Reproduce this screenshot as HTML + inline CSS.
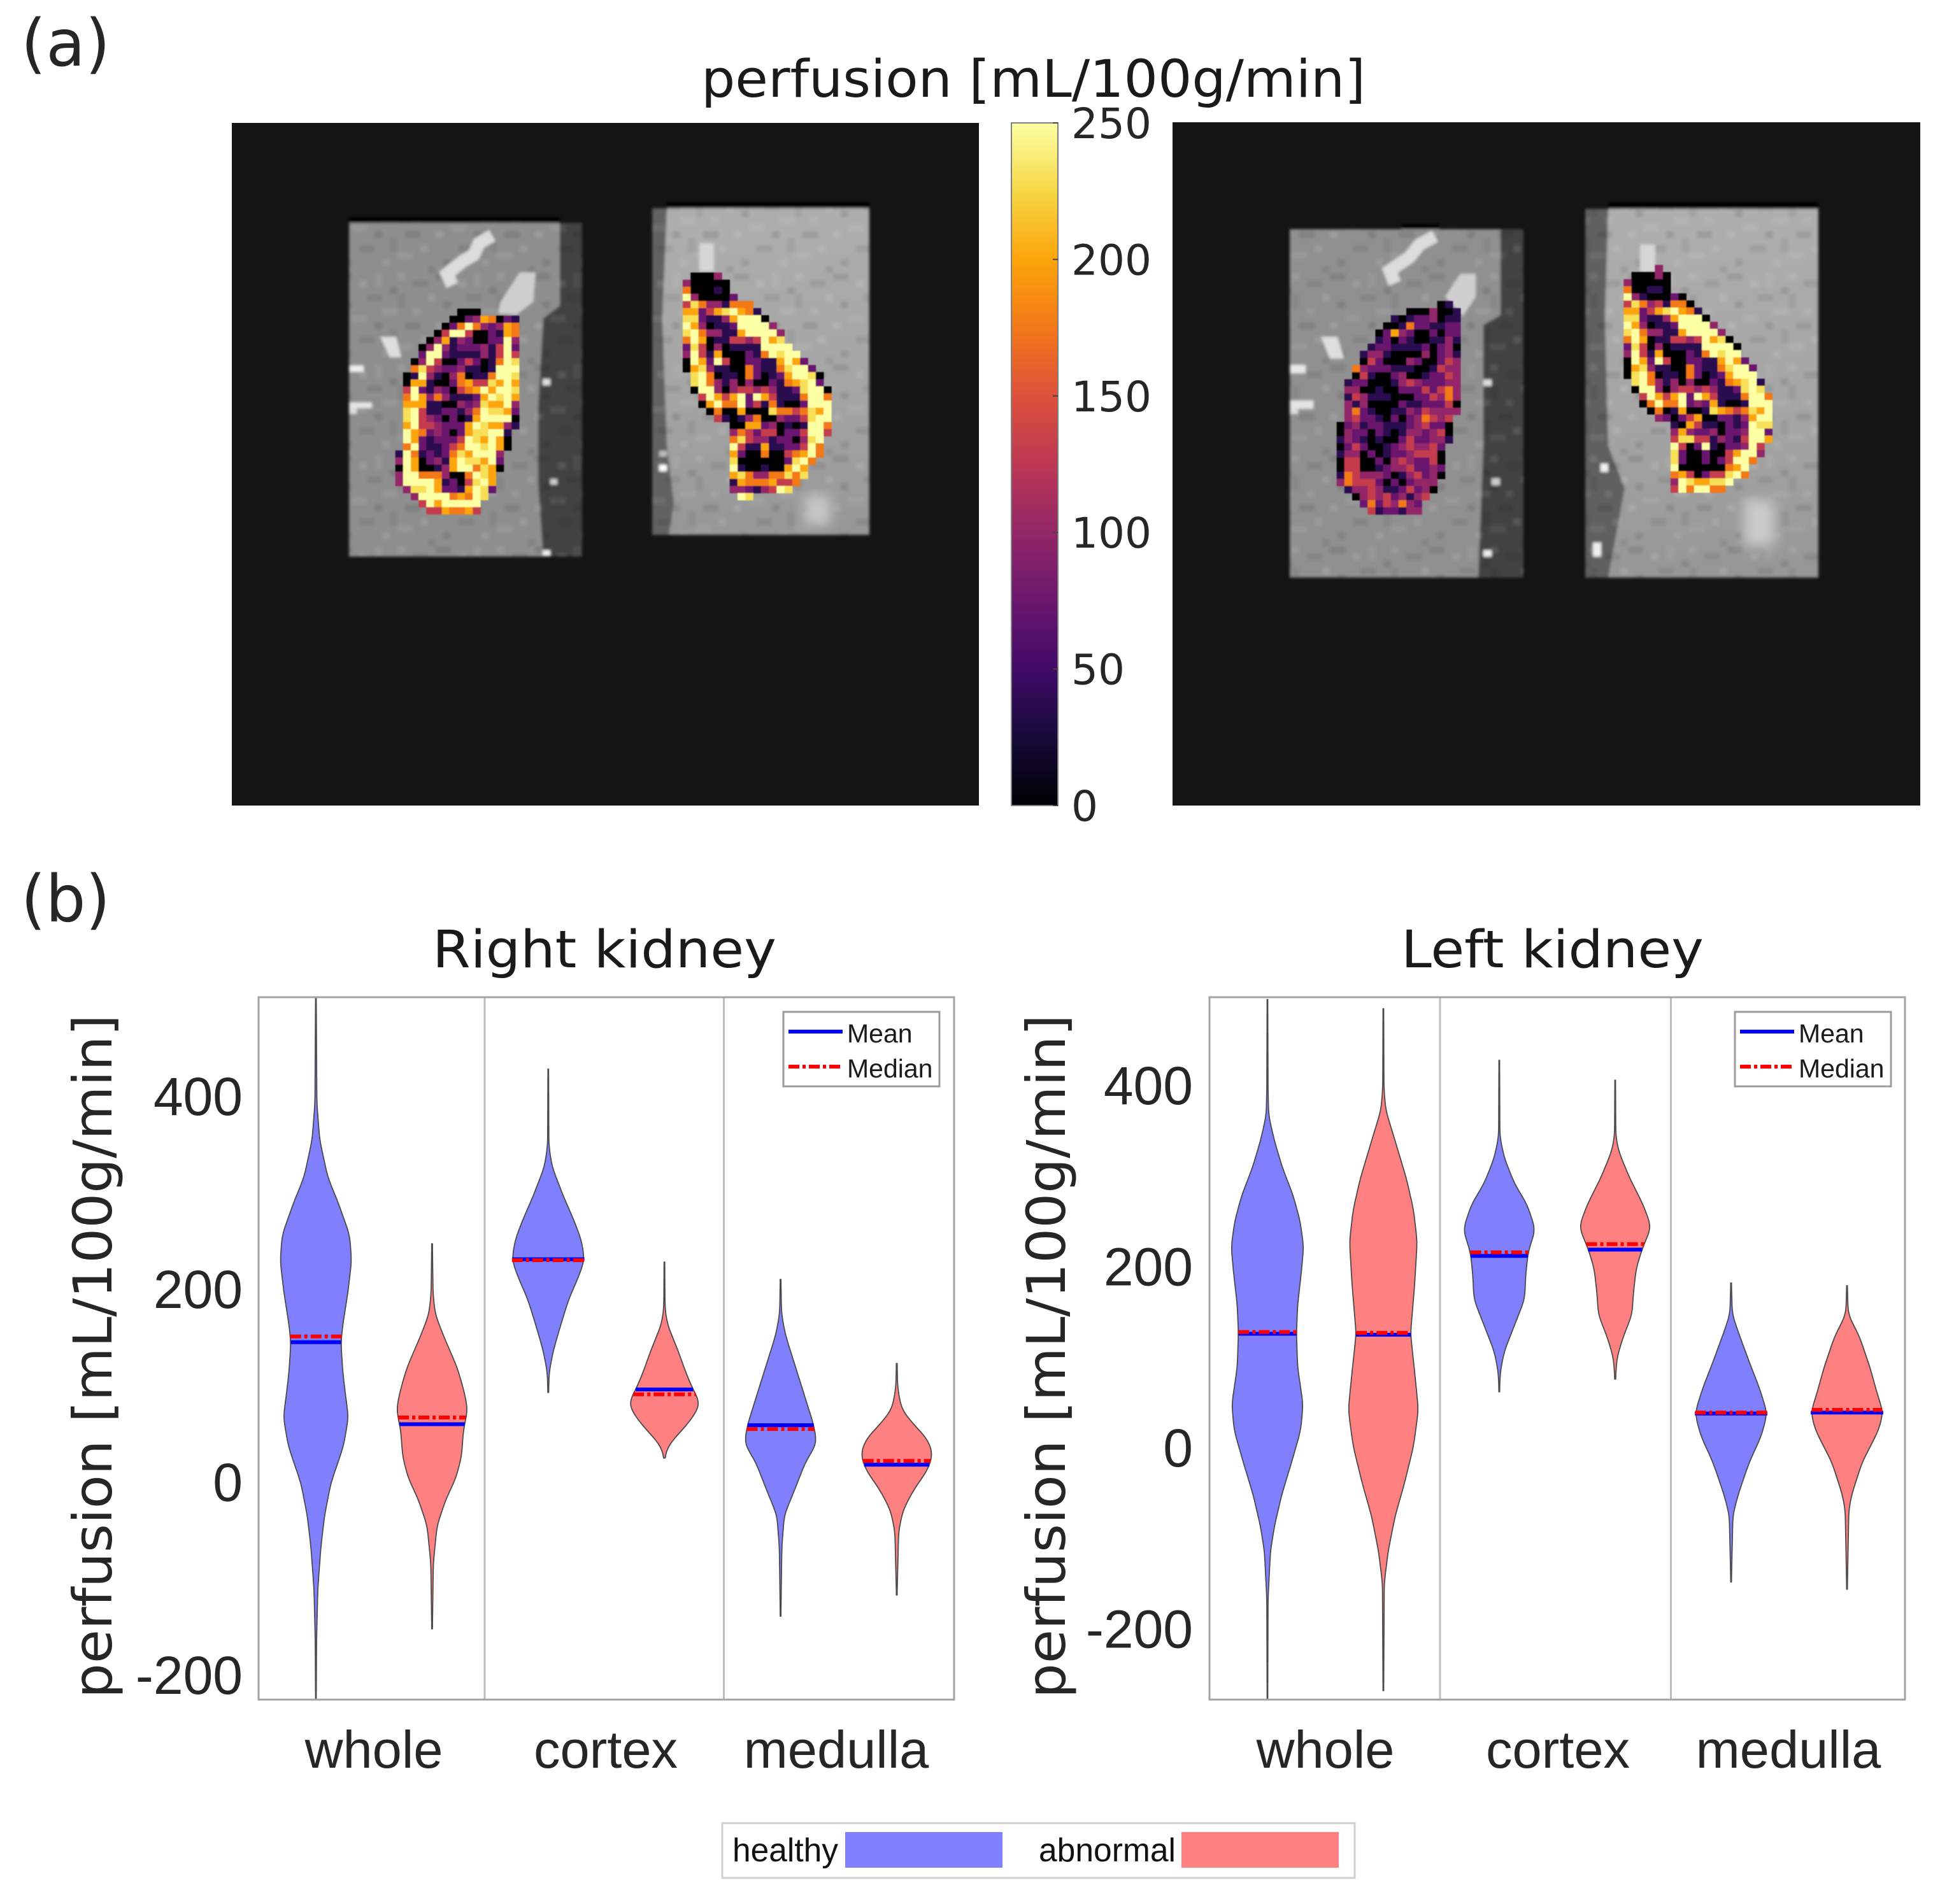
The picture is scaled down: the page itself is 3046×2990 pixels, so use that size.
<!DOCTYPE html>
<html lang="en">
<head>
<meta charset="utf-8">
<title>Kidney perfusion maps and violin plots</title>
<style>
html,body{margin:0;padding:0;background:#fff;}
svg{display:block;}
.dj{font-family:"DejaVu Sans",sans-serif;fill:#262626;}
.lb{font-family:"Liberation Sans",sans-serif;fill:#262626;}
</style>
</head>
<body>
<svg id="fig" xmlns="http://www.w3.org/2000/svg" width="3046" height="2990" viewBox="0 0 3046 2990">
  <defs>
    <filter id="soft" x="-5%" y="-5%" width="110%" height="110%"><feGaussianBlur stdDeviation="2.2"/></filter>
    <filter id="softer" x="-10%" y="-10%" width="120%" height="120%"><feGaussianBlur stdDeviation="0.8"/></filter>
    <filter id="patchBlur" x="-40%" y="-40%" width="180%" height="180%"><feGaussianBlur stdDeviation="9"/></filter>
    <pattern id="mottle" width="156" height="143" patternUnits="userSpaceOnUse">
      <rect x="0" y="0" width="12" height="11" fill="#fff" opacity=".09"/>
      <rect x="60" y="0" width="24" height="11" fill="#000" opacity=".09"/>
      <rect x="120" y="0" width="12" height="22" fill="#fff" opacity=".06"/>
      <rect x="24" y="11" width="24" height="11" fill="#000" opacity=".08"/>
      <rect x="96" y="11" width="12" height="11" fill="#fff" opacity=".1"/>
      <rect x="144" y="22" width="12" height="11" fill="#000" opacity=".1"/>
      <rect x="0" y="33" width="12" height="22" fill="#000" opacity=".06"/>
      <rect x="48" y="33" width="12" height="11" fill="#fff" opacity=".11"/>
      <rect x="108" y="33" width="24" height="11" fill="#000" opacity=".07"/>
      <rect x="72" y="44" width="12" height="11" fill="#000" opacity=".1"/>
      <rect x="24" y="55" width="12" height="11" fill="#fff" opacity=".08"/>
      <rect x="132" y="55" width="24" height="11" fill="#fff" opacity=".08"/>
      <rect x="84" y="66" width="24" height="11" fill="#fff" opacity=".07"/>
      <rect x="12" y="77" width="24" height="11" fill="#000" opacity=".09"/>
      <rect x="60" y="77" width="12" height="11" fill="#fff" opacity=".1"/>
      <rect x="120" y="77" width="12" height="11" fill="#000" opacity=".1"/>
      <rect x="144" y="88" width="12" height="22" fill="#000" opacity=".06"/>
      <rect x="36" y="99" width="12" height="11" fill="#fff" opacity=".1"/>
      <rect x="96" y="99" width="24" height="11" fill="#000" opacity=".08"/>
      <rect x="0" y="110" width="24" height="11" fill="#fff" opacity=".07"/>
      <rect x="72" y="121" width="12" height="11" fill="#000" opacity=".09"/>
      <rect x="132" y="121" width="12" height="11" fill="#fff" opacity=".09"/>
      <rect x="48" y="132" width="12" height="11" fill="#000" opacity=".07"/>
    </pattern>
    <linearGradient id="grayFadeA" x1="0" y1="0" x2="0" y2="1">
      <stop offset="0" stop-color="#aeaeae"/><stop offset=".6" stop-color="#a4a4a4"/><stop offset="1" stop-color="#969696"/>
    </linearGradient>
    <linearGradient id="inferno" x1="0" y1="1" x2="0" y2="0">
      <stop offset="0" stop-color="#000004"/><stop offset=".1" stop-color="#160b39"/><stop offset=".2" stop-color="#420a68"/>
      <stop offset=".3" stop-color="#6a176e"/><stop offset=".4" stop-color="#932667"/><stop offset=".5" stop-color="#bc3754"/>
      <stop offset=".6" stop-color="#dd513a"/><stop offset=".7" stop-color="#f37819"/><stop offset=".8" stop-color="#fca50a"/>
      <stop offset=".9" stop-color="#f6d746"/><stop offset="1" stop-color="#fcffa4"/>
    </linearGradient>
    <clipPath id="clipRight"><rect x="406" y="1566" width="1092" height="1103"/></clipPath>
    <clipPath id="clipLeft"><rect x="1899" y="1566" width="1092" height="1103"/></clipPath>
  </defs>

  <rect width="3046" height="2990" fill="#fff"/>

  <text class="dj" x="33" y="103" font-size="102" textLength="140" lengthAdjust="spacingAndGlyphs">(a)</text>
  <text class="dj" x="33" y="1447" font-size="102" textLength="140" lengthAdjust="spacingAndGlyphs">(b)</text>
  <text x="1101" y="152" font-family="'DejaVu Sans',sans-serif" fill="#1a1a1a" font-size="81" textLength="1043" lengthAdjust="spacingAndGlyphs">perfusion [mL/100g/min]</text>

  <!-- Perfusion image panels -->
  <g>
    <rect x="364" y="193" width="1173" height="1072" fill="#141414"/>
    <g filter="url(#soft)">
      <rect x="548" y="341" width="331" height="9" fill="#000"/>
      <rect x="548" y="350" width="366" height="524" fill="#8e8e8e"/>
      <polygon points="879,350 914,350 914,874 853,874 845,760 845,640 853,500 879,480" fill="#424242"/>
      <rect x="548" y="350" width="366" height="524" fill="url(#mottle)"/>
      <polyline points="773,370 752,382 744,400 727,410 702,430 710,448" fill="none" stroke="#dcdcdc" stroke-width="20"/>
      <polygon points="816,428 841,428 837,474 811,494 782,492 786,474" fill="#cfcfcf"/>
      <polygon points="597,529 622,529 630,561 612,561" fill="#dedede"/>
      <rect x="548" y="574" width="23" height="10" fill="#eee"/>
      <rect x="548" y="632" width="36" height="9" fill="#e4e4e4"/>
      <rect x="548" y="641" width="12" height="9" fill="#ddd"/>
      <rect x="852" y="595" width="12" height="10" fill="#ddd"/>
      <rect x="864" y="752" width="11" height="9" fill="#ccc"/>
      <rect x="852" y="864" width="12" height="9" fill="#eee"/>

      <rect x="1047" y="318" width="318" height="9" fill="#000"/>
      <rect x="1024" y="327" width="341" height="513" fill="url(#grayFadeA)"/>
      <polygon points="1024,327 1047,327 1040,500 1047,700 1058,790 1050,840 1024,840" fill="#626262"/>
      <rect x="1024" y="327" width="341" height="513" fill="url(#mottle)"/>
      <rect x="1098" y="382" width="23" height="44" fill="#d6d6d6"/>
      <rect x="1035" y="730" width="12" height="10" fill="#fff"/>
      <rect x="1035" y="708" width="12" height="9" fill="#bbb"/>
    </g>
    <rect x="1262" y="778" width="42" height="46" fill="#c6c6c6" filter="url(#patchBlur)"/>
    <g id="kidneyA" filter="url(#softer)"></g>
    <g id="kidneyB" filter="url(#softer)"></g>
  </g>

  <g>
    <rect x="1841" y="192" width="1174" height="1073" fill="#141414"/>
    <g filter="url(#soft)">
      <rect x="2200" y="352" width="60" height="8" fill="#000"/>
      <rect x="2025" y="360" width="367" height="547" fill="#909090"/>
      <polygon points="2356,360 2392,360 2392,907 2321,907 2329,700 2329,510 2356,495" fill="#424242"/>
      <rect x="2025" y="360" width="367" height="547" fill="url(#mottle)"/>
      <polyline points="2253,371 2229,384 2213,404 2182,425 2190,445" fill="none" stroke="#dcdcdc" stroke-width="20"/>
      <polygon points="2293,430 2317,430 2317,466 2297,496 2269,466" fill="#cfcfcf"/>
      <polygon points="2074,529 2100,529 2110,563 2088,563" fill="#dedede"/>
      <rect x="2025" y="573" width="25" height="13" fill="#e8e8e8"/>
      <rect x="2025" y="629" width="37" height="13" fill="#e4e4e4"/>
      <rect x="2025" y="642" width="13" height="8" fill="#ddd"/>
      <rect x="2329" y="596" width="13" height="10" fill="#ddd"/>
      <rect x="2342" y="751" width="13" height="11" fill="#ccc"/>
      <rect x="2329" y="864" width="13" height="10" fill="#eee"/>

      <rect x="2525" y="318" width="330" height="10" fill="#000"/>
      <rect x="2489" y="328" width="366" height="579" fill="url(#grayFadeA)"/>
      <polygon points="2489,328 2525,328 2520,500 2525,700 2551,767 2525,907 2489,907" fill="#606060"/>
      <rect x="2489" y="328" width="366" height="579" fill="url(#mottle)"/>
      <rect x="2575" y="384" width="24" height="43" fill="#d6d6d6"/>
      <rect x="2513" y="728" width="12" height="13" fill="#f2f2f2"/>
      <rect x="2501" y="852" width="13" height="22" fill="#eee"/>
    </g>
    <rect x="2738" y="785" width="48" height="72" fill="#cacaca" filter="url(#patchBlur)"/>
    <g id="kidneyC" filter="url(#softer)"></g>
    <g id="kidneyD" filter="url(#softer)"></g>
  </g>

  <!-- Colour bar -->
  <g id="colorbar">
    <rect x="1588" y="193" width="73" height="1072" fill="url(#inferno)" stroke="#808080" stroke-width="2"/>
  </g>

  <!-- Violin panels -->
  <text x="679" y="1519" font-family="'DejaVu Sans',sans-serif" fill="#1a1a1a" font-size="81" textLength="540" lengthAdjust="spacingAndGlyphs">Right kidney</text>
  <text x="2200" y="1519" font-family="'DejaVu Sans',sans-serif" fill="#1a1a1a" font-size="81" textLength="475" lengthAdjust="spacingAndGlyphs">Left kidney</text>

  <text class="dj" transform="translate(175,2667) rotate(-90)" font-size="84" textLength="1074" lengthAdjust="spacingAndGlyphs">perfusion [mL/100g/min]</text>
  <text class="dj" transform="translate(1672,2667) rotate(-90)" font-size="84" textLength="1074" lengthAdjust="spacingAndGlyphs">perfusion [mL/100g/min]</text>

  <g id="panelRight"></g>
  <g id="panelLeft"></g>

  <!-- Bottom legend -->
  <g>
    <rect x="1134" y="2863" width="993" height="86" fill="#fff" stroke="#cfcfcf" stroke-width="3"/>
    <text x="1150" y="2923" font-family="'Liberation Sans',sans-serif" fill="#111" font-size="52" textLength="166" lengthAdjust="spacingAndGlyphs">healthy</text>
    <rect x="1327" y="2877" width="247" height="56" fill="#8080ff"/>
    <text x="1631" y="2923" font-family="'Liberation Sans',sans-serif" fill="#111" font-size="52" textLength="215" lengthAdjust="spacingAndGlyphs">abnormal</text>
    <rect x="1855" y="2877" width="247" height="56" fill="#ff8080"/>
  </g>
</svg>

<script>
/* ---------- perfusion colour-scale ---------- */
const colorbarTicks = [0, 50, 100, 150, 200, 250];
const infernoStops = ["#000004","#160b39","#420a68","#6a176e","#932667","#bc3754","#dd513a","#f37819","#fca50a","#f6d746","#fcffa4"];
/* perfusion (mL/100g/min) represented by each letter in the kidney grids */
const perfusionLevels = {k:0, d:37, p:75, m:100, r:132, o:175, a:200, l:230, y:250};

/* ---------- kidney maps: one letter per voxel ---------- */
const kidneyGridA = [
"........kkk.....",".......kkpmaokpd","......kpoyompmao",".....kryyrkkpdao","....kmadmpkkppym",
"...kmymdpppmdryp","...pyypddddmdryr","..kmyrkkprpkdoyl","..olrmppmddkdyyy",".kdymdkmokddoyyl",
".kaadkkpoarrlaya",".rypdmpkroayayyl",".oyamomdddpaylya",".aaaddkkmpmlaaym",".lyrddppdmoyllap",
".lyrmpkpkdayyyyk",".ayrrmpppaylaamd",".yaopmpkpallyyd.",".yapdppprylayak.",".oypddproyylyak.",
"dyodpdpolayyym..","myakpmdayllayp..","kyakkdmayyolak..","myyooomkkoyla...","myyyyadpkrlya...",
".mllyappdaylp...","..myyyyoaoyl....","...ryayyyyy.....","....rraooar....."];
const kidneyGridB = [
".kkkm","mkkkkk","okkkdk","ymkkkkp","rlommdooo","aapralyaod","llpddmayyyk","yamkddpyyyym",
"lyommddayyyym","oyakddrrmryal","plrkmkddddyyyy","myrdakkkpdoylyy","kyapyrkkppddayap","kalmddkkopddolyyp",
".lyokddkopkdpayylk",".lyomdmkmkkpdoalyp",".kyymkmrrmrmddplyyk","..ryaraypyardddoyyo","..kayooyprdodkkpyyy",
"...kokkakkkloorolay","....rdkdmokkmpprlyy","......kkaapmkdkdyyo","......morprrkppryyr","......olrmmdppkmly",
"......yrddaddppryo","......apkkokkroayo","......lkkkkkkplyo","......ydkkdkkaya","......alommoolol",
"......daoooarro","......mmpdmryl",".......yl"];
const kidneyGridC = [
".............kd",".........kkkmkkd",".......dkdppmkdd","......kkdoppddpp",".....kpampkkpkpp",".....dpkpdkkddmd",
"....dppddddpkpmk","...dmmdkkkkmkpmd","...krpkkkmpkkprm","..ompppdddkkdrmm","..krdkkpmkkdpprm",".dppkkkdmrmpppmm",
".mmkkdkkppprprom",".drmdddkkkpprmom",".mdmkkkkpddppprk",".mopdkkddmprmmmm",".mrppdkpkpmormr.","kpmdppdddpmrppk.",
"kmppkpdkdmmpmrk.","dmpdkdkkprppmmd.","kprpkkdpmrmmrp..","dmmkpkdppmrrrk..","krrkkpkmrmpprk..","krrkkdpmmrppmp..",
"dormmmpkdmrpmk..","morrrpkpkpmmm...",".dmmrmddprpmk...","..kmrmrpmdmr....","...poprmomp.....","....rdppdmm....."];
const kidneyGridD = [
"....m",".kkkmk","mkkkkk","okkddk","ymdkkkpk","rlomrdook","aapralyaod","llpddmayyyk","yamkddpyyyym",
"lyommddayyyym","oyakddrrmryalk","plrkmkddddyyyyk","myrdakkkpdoylyy","kyapyrkkppddayap","kalmddkkopddolyyp",
"klyokddkopkdpayyy",".lyomdmkmkkpdoalyd",".kyymkmrrmrmddplyl","..ryaraypyardddoyyo","..koyooypmpadkkdyyy",
"...kokdakkdlaorolay","....mpkprakkppdmayy","......dkarddkpdpyll","......mamppmkppmyyp","......rllrrdmpdryya",
"......yrkpydkppmyr","......lpkkpkkrayym","......lpkkpkpryyo","......ykkkkkkoay","......oarkprrlyo",
"......mylaally","......ryoyyoo"];

/* ---------- violin plots: shared axes ---------- */
const categories = ["whole", "cortex", "medulla"];
const yTicks = [-200, 0, 200, 400];
const groupColors = ["#8080ff", "#ff8080"];

/* Right kidney: perfusion levels and the violin half-width (density) at each level */
const rightLevels = [
 [506,396,358,319,292,259,232,199,166,148,117,95,70,40,2,-31,-64,-108,-163,-223],
 [250,199,177,155,122,100,79,56,29,7,-15,-42,-81,-149],
 [431,352,330,298,276,254,233,215,193,166,139,117,96],
 [231,182,166,139,117,100,84,67,51,40,28],
 [213,177,155,122,89,62,43,24,-9,-31,-64,-136],
 [126,100,78,62,48,32,15,-4,-26,-48,-114]];
const rightDensity = [
 [0.5,1.5,6,19,36,54,57,51,43,40,43,47,52,44,24,14,8,3,1,0.5],
 [0.5,1.5,5,18,40,50,57,50,47,38,22,8,2,0.5],
 [0.5,1,6,25,40,53,58,48,33,20,8,1.5,0.5],
 [0.5,1,5,22,34,45,58,42,20,5,0.5],
 [0.5,1.5,8,24,40,53,58,40,20,6,2,0.5],
 [0.5,1.5,8,28,49,58,49,28,10,3,0.5]];
const rightMeans = [148,63,234,99,62,21];
const rightMedians = [154,70,233,94,58,25];

/* Left kidney */
const leftLevels = [
 [498,400,370,341,312,283,254,225,196,161,129,92,51,22,-13,-48,-82,-111,-164,-274],
 [488,400,376,341,301,266,231,185,129,86,45,5,-36,-71,-111,-146,-265],
 [431,347,324,295,272,244,220,196,167,138,109,86,65],
 [409,347,330,301,272,247,225,202,173,150,127,103,79],
 [185,150,127,98,69,41,16,-13,-48,-71,-145],
 [182,150,127,92,63,42,22,-13,-48,-65,-153]];
const leftDensity = [
 [0.5,1,2,12,25,42,54,60,56,50,48,50,59,55,40,24,12,5,1,0.5],
 [0.5,1,4,20,38,50,56,52,45,52,58,50,35,20,8,1.5,0.5],
 [0.5,1,8,25,46,60,48,44,42,25,8,1.5,0.5],
 [0.5,1,6,24,46,60,46,35,30,28,14,3,0.5],
 [0.5,2,14,30,47,60,50,30,12,3,0.5],
 [0.5,2,20,38,50,60,52,25,8,3,0.5]];
const leftMeans = [129,128,215,222,41,42];
const leftMedians = [131,130,219,228,42,45];

/* ---------- helpers ---------- */
const NS = "http://www.w3.org/2000/svg";
function hexRgb(h){return [1,3,5].map(i=>parseInt(h.substr(i,2),16));}
function colorFor(v){
  const t = Math.max(0,Math.min(1,v/250))*(infernoStops.length-1);
  const i = Math.min(Math.floor(t),infernoStops.length-2), f = t-i;
  const a = hexRgb(infernoStops[i]), b = hexRgb(infernoStops[i+1]);
  return "rgb("+a.map((c,j)=>Math.round(c+(b[j]-c)*f)).join(",")+")";
}
function make(parent,tag,attrs){
  const el = document.createElementNS(NS,tag);
  for(const k in attrs) el.setAttribute(k,attrs[k]);
  parent.appendChild(el);
  return el;
}
function densityAt(levels,dens,v){
  if(v>=levels[0]) return dens[0];
  for(let i=1;i<levels.length;i++){
    if(v>=levels[i]){
      const f=(levels[i-1]-v)/(levels[i-1]-levels[i]);
      return dens[i-1]+(dens[i]-dens[i-1])*f;
    }
  }
  return dens[dens.length-1];
}
/* kernel-smoothed outline sampled along the value axis */
function smoothProfile(levels,dens,pxPerUnit){
  const step=3/pxPerUnit, top=levels[0], bottom=levels[levels.length-1];
  const raw=[];
  for(let v=top;v>bottom;v-=step) raw.push([v,densityAt(levels,dens,v)]);
  raw.push([bottom,dens[dens.length-1]]);
  const R=6;
  const kernel=[];
  for(let k=-R;k<=R;k++) kernel.push(Math.exp(-k*k/(2*3.2*3.2)));
  return raw.map((p,i)=>{
    let s=0,w=0;
    kernel.forEach((kv,idx)=>{
      const j=i+idx-R;
      const val=j<0?raw[0][1]:(j>=raw.length?raw[raw.length-1][1]:raw[j][1]);
      s+=val*kv; w+=kv;
    });
    return [p[0],s/w];
  });
}

/* ---------- kidney heat-map cells ---------- */
function drawKidney(id,grid,originX,originY,cellW,cellH){
  const g=document.getElementById(id);
  const xCell=c=>originX+c*cellW, yCell=r=>originY+r*cellH;
  grid.forEach((row,r)=>{
    [...row].forEach((ch,c)=>{
      if(ch===".") return;
      const cell=make(g,"rect",{x:xCell(c).toFixed(2),y:yCell(r).toFixed(2),width:cellW+0.4,height:cellH+0.4,fill:colorFor(perfusionLevels[ch])});
      
      
    });
  });
}
drawKidney("kidneyA",kidneyGridA,620.7,484.7,12.15,11.13);
drawKidney("kidneyB",kidneyGridB,1072,428,12.28,11.17);
drawKidney("kidneyC",kidneyGridC,2098.7,472.7,12.15,11.17);
drawKidney("kidneyD",kidneyGridD,2549.3,416,12.28,11.17);

/* ---------- colour-bar ticks ---------- */
(function(){
  const g=document.getElementById("colorbar");
  const yBar=v=>1265-v*(1072/250);
  colorbarTicks.forEach(v=>{
    const tick=make(g,"line",{x1:1653,x2:1661,y1:yBar(v),y2:yBar(v),stroke:"#444","stroke-width":2});
    
    
    const label=make(g,"text",{x:1682,y:yBar(v)+24,"font-family":"'DejaVu Sans',sans-serif","font-size":66,fill:"#262626"});
    
    
    label.textContent=String(v);
  });
})();

/* ---------- violin panels ---------- */
function drawPanel(cfg){
  const g=document.getElementById(cfg.id);
  const xPos=i=>cfg.firstX+i*cfg.stepX;
  const yVal=v=>cfg.zeroY-v*cfg.pxPerUnit;
  const wd=d=>d*cfg.widthScale;
  const L=cfg.left,R=cfg.left+1092,T=1566,B=2669;

  cfg.dividers.forEach(xd=>{
    const dv=make(g,"line",{x1:xd,x2:xd,y1:T,y2:B,stroke:"#bdbdbd","stroke-width":3});
    
    
  });

  const plot=make(g,"g",{"clip-path":"url(#"+cfg.clip+")"});
  
  

  cfg.levels.forEach((levels,i)=>{
    const dens=cfg.density[i], cx=xPos(i), col=groupColors[i%2];
    const prof=smoothProfile(levels,dens,cfg.pxPerUnit);
    const right=prof.map(p=>(cx+wd(p[1])).toFixed(1)+" "+yVal(p[0]).toFixed(1));
    const left=prof.slice().reverse().map(p=>(cx-wd(p[1])).toFixed(1)+" "+yVal(p[0]).toFixed(1));
    const path=make(plot,"path",{d:"M"+right.join("L")+"L"+left.join("L")+"Z",fill:col,stroke:"#4a4a4a","stroke-width":1.8});
    
    
  });
  cfg.levels.forEach((levels,i)=>{
    const dens=cfg.density[i], cx=xPos(i);
    const hm=wd(densityAt(levels,dens,cfg.means[i]));
    const mean=make(plot,"line",{x1:cx-hm,x2:cx+hm,y1:yVal(cfg.means[i]),y2:yVal(cfg.means[i]),stroke:"#0000ff","stroke-width":6});
    
    
    const hd=wd(densityAt(levels,dens,cfg.medians[i]));
    const med=make(plot,"line",{x1:cx-hd,x2:cx+hd,y1:yVal(cfg.medians[i]),y2:yVal(cfg.medians[i]),stroke:"#ff0000","stroke-width":6,"stroke-dasharray":"17 5 5 5"});
    
    
  });

  const frame=make(g,"rect",{x:L,y:T,width:R-L,height:B-T,fill:"none",stroke:"#a3a3a3","stroke-width":3});
  
  

  yTicks.forEach(v=>{
    const t=make(g,"text",{x:cfg.tickX,y:yVal(v)+25,"text-anchor":"end","font-family":"'Liberation Sans',sans-serif","font-size":84,fill:"#262626"});
    
    
    t.textContent=String(v);
  });
  categories.forEach((c,i)=>{
    const t=make(g,"text",{x:cfg.catX[i],y:2776,"text-anchor":"middle","font-family":"'Liberation Sans',sans-serif","font-size":83,fill:"#262626"});
    
    
    t.textContent=c;
  });

  const lx=cfg.legendX;
  const lg=make(g,"g",{});
  
  
  make(lg,"rect",{x:lx,y:1589,width:245,height:117,fill:"#fff",stroke:"#9b9b9b","stroke-width":3});
  const lm=make(lg,"line",{x1:lx+8,x2:lx+93,y1:1620,y2:1620,stroke:"#0000ff","stroke-width":6});
  
  
  const ld=make(lg,"line",{x1:lx+8,x2:lx+93,y1:1675,y2:1675,stroke:"#ff0000","stroke-width":6,"stroke-dasharray":"17 5 5 5"});
  
  
  const tm=make(lg,"text",{x:lx+100,y:1637,"font-family":"'Liberation Sans',sans-serif","font-size":41,fill:"#1a1a1a"});
  
  
  tm.textContent="Mean";
  const td=make(lg,"text",{x:lx+100,y:1692,"font-family":"'Liberation Sans',sans-serif","font-size":41,fill:"#1a1a1a"});
  
  
  td.textContent="Median";
}

drawPanel({id:"panelRight",clip:"clipRight",left:406,firstX:496,stepX:182.4,zeroY:2332,pxPerUnit:1.515,widthScale:0.982,
  levels:rightLevels,density:rightDensity,means:rightMeans,medians:rightMedians,
  dividers:[761,1136.5],tickX:381,catX:[587,951,1313],legendX:1230});
drawPanel({id:"panelLeft",clip:"clipLeft",left:1899,firstX:1990,stepX:182,zeroY:2278,pxPerUnit:1.422,widthScale:0.948,
  levels:leftLevels,density:leftDensity,means:leftMeans,medians:leftMedians,
  dividers:[2261,2623.5],tickX:1873,catX:[2081,2446,2808],legendX:2724});
</script>
</body>
</html>
